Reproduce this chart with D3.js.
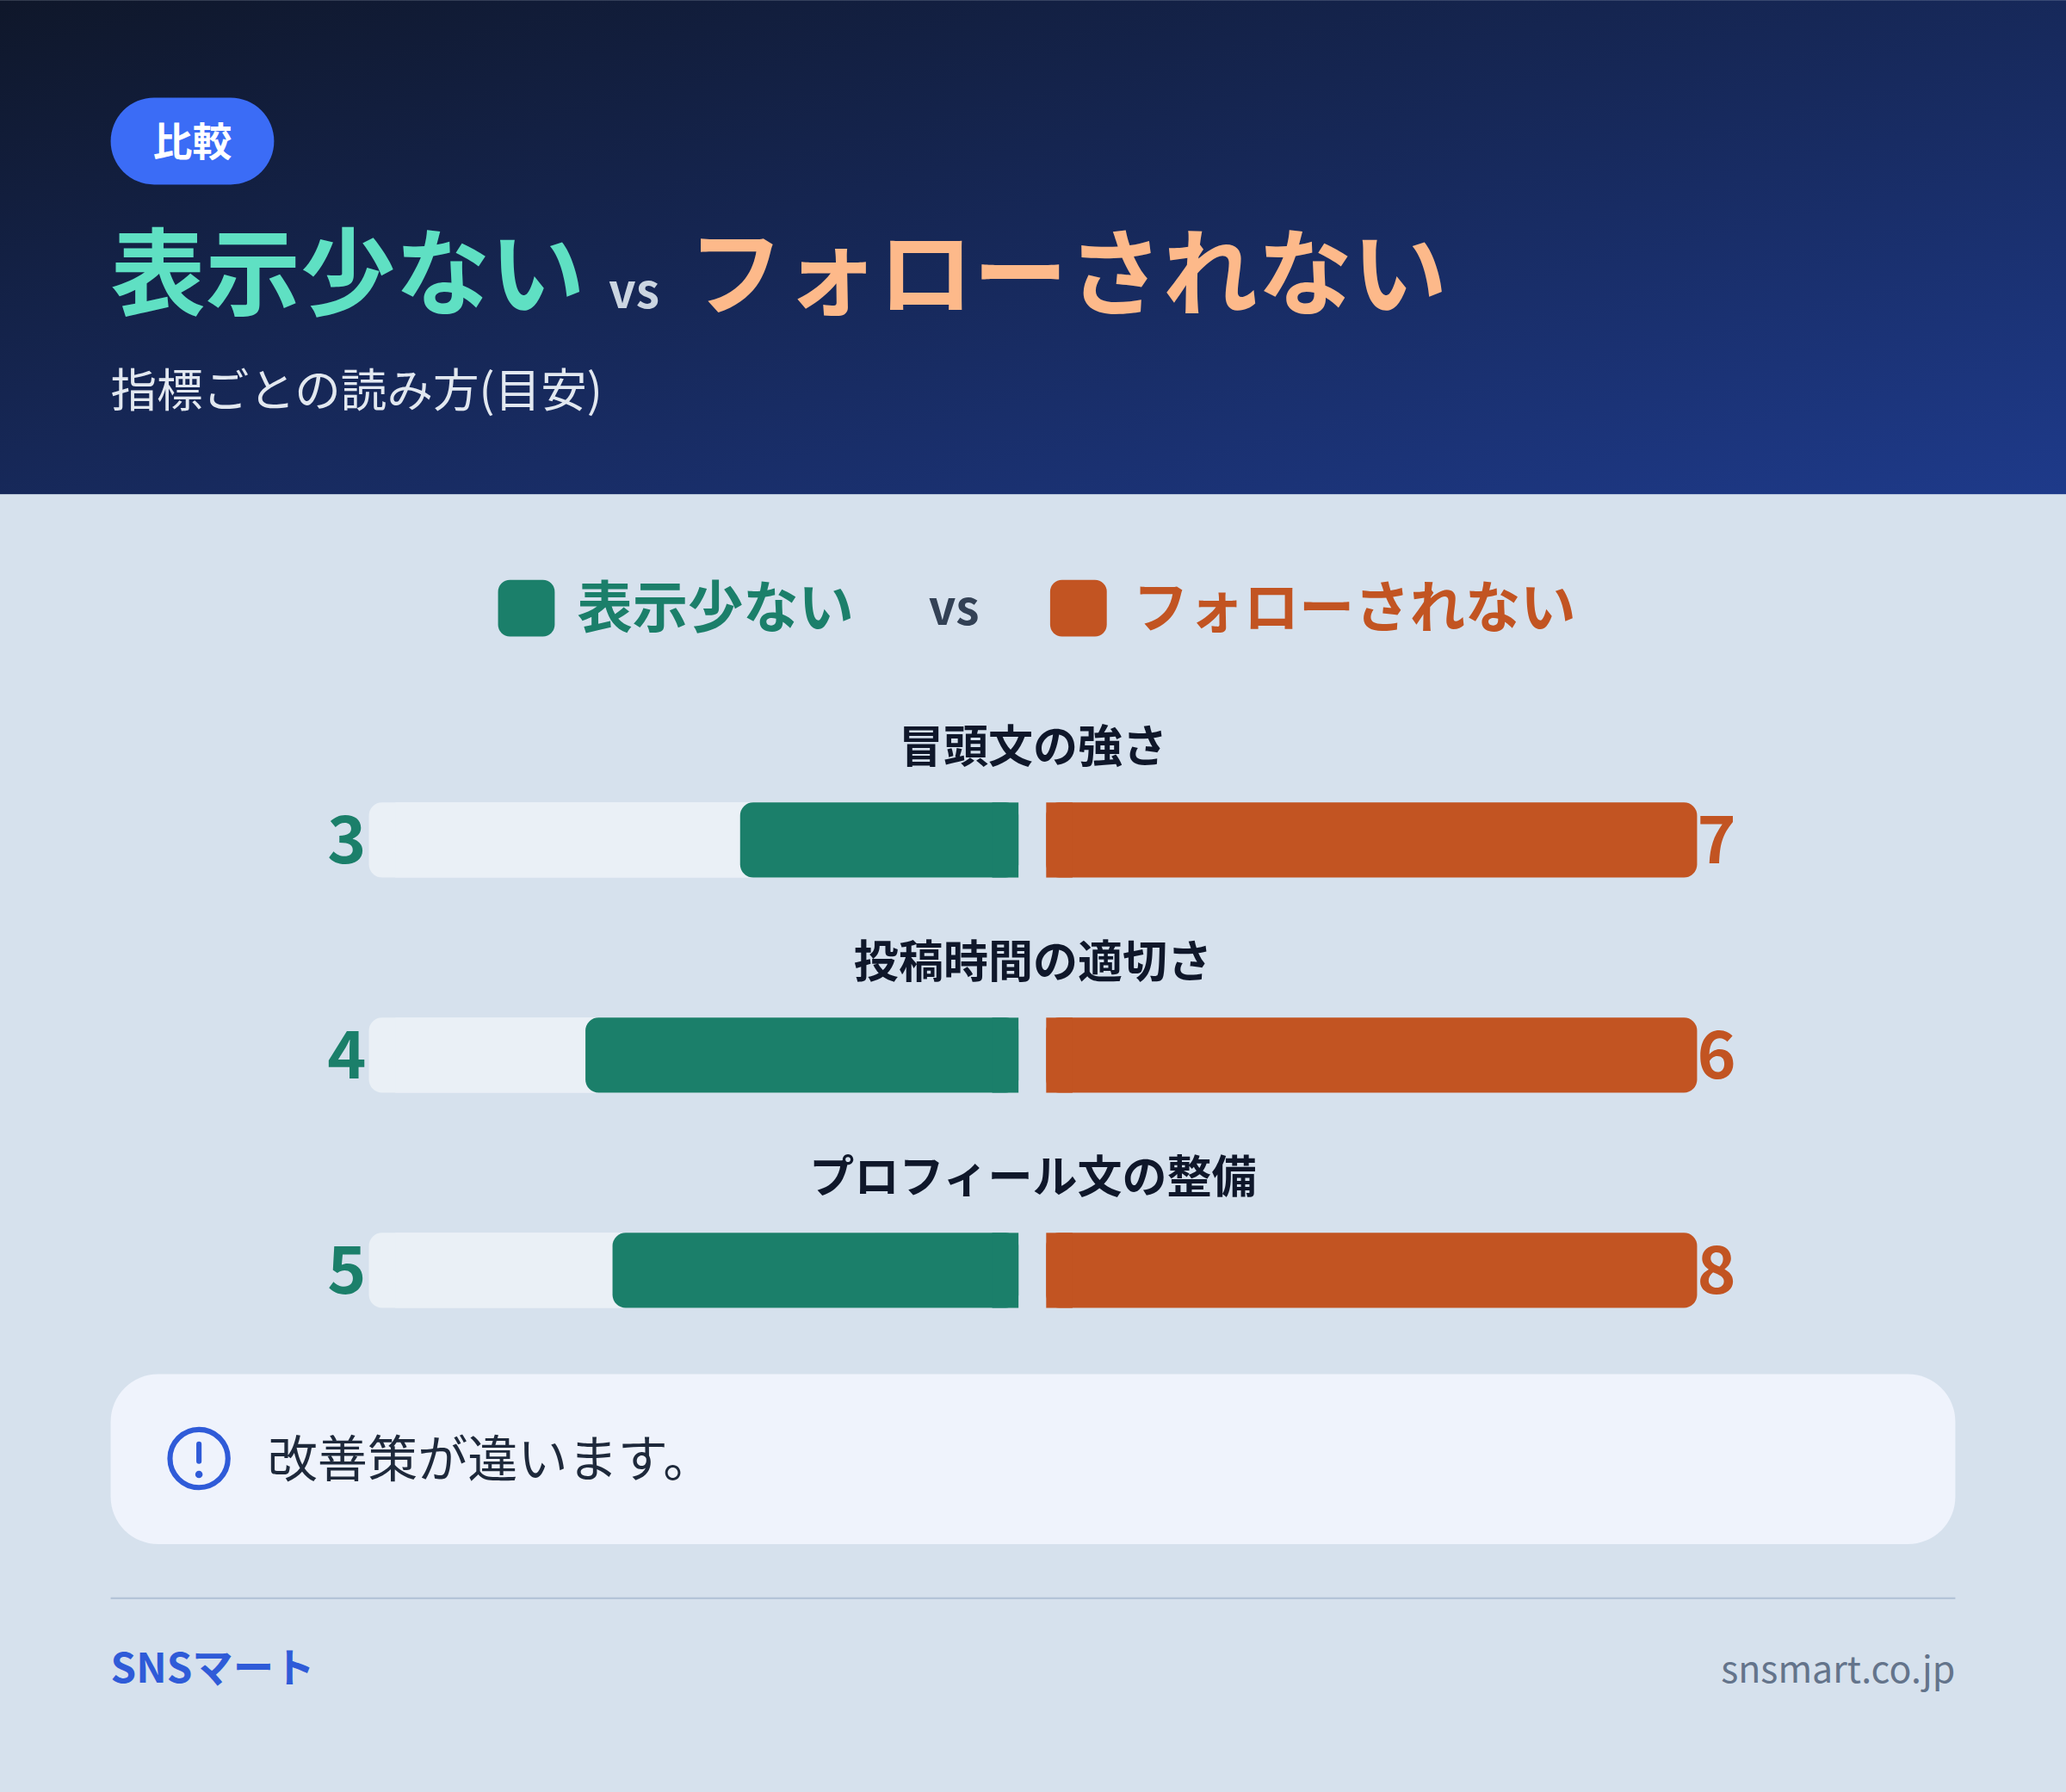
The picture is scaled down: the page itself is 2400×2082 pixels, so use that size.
<!DOCTYPE html>
<html><head><meta charset="utf-8">
<script src="https://cdn.jsdelivr.net/npm/d3@7"></script>
<style>body{margin:0;background:#d6e1ed}svg{display:block}text{font-family:"Noto Sans CJK JP","Noto Sans",sans-serif}</style>
</head><body><svg id="c"></svg>
<script>
const categories = ["冒頭文の強さ", "投稿時間の適切さ", "プロフィール文の整備"];
const seriesA = [3, 4, 5];   // 表示少ない
const seriesB = [7, 6, 8];   // フォローされない
const names = ["表示少ない", "フォローされない"];

const W = 1568, H = 1360;
const svg = d3.select("#c").attr("width", 2400).attr("height", 2082).attr("viewBox", `0 0 ${W} ${H}`);
const GREEN = "#1b7f6a", ORANGE = "#c25422";

const defs = svg.append("defs");
const gr = defs.append("linearGradient").attr("id", "hg").attr("x1", 0).attr("y1", 0).attr("x2", 1).attr("y2", 1);
gr.append("stop").attr("offset", 0).attr("stop-color", "#0f172a");
gr.append("stop").attr("offset", 1).attr("stop-color", "#1e3a8a");

svg.append("rect").attr("width", W).attr("height", H).attr("fill", "#d6e1ed");
svg.append("rect").attr("width", W).attr("height", 375).attr("fill", "url(#hg)");

// badge
svg.append("rect").attr("x", 84).attr("y", 74).attr("width", 124).attr("height", 66).attr("rx", 33).attr("fill", "#3b6cf6");
svg.append("text").attr("x", 146).attr("y", 118).attr("text-anchor", "middle").attr("fill", "#fff")
  .attr("font-size", 30).attr("font-weight", 700).text("比較");

const title = svg.append("text").attr("x", 84).attr("y", 234).attr("font-weight", 700);
title.append("tspan").attr("fill", "#5fe0c3").attr("font-size", 72).text(names[0]);
title.append("tspan").attr("fill", "#cbd5e1").attr("font-size", 36).attr("dx", 18).text("vs");
title.append("tspan").attr("fill", "#fdb98a").attr("font-size", 72).attr("dx", 22).text(names[1]);
svg.append("text").attr("x", 84).attr("y", 309).attr("fill", "#e2e8f0").attr("font-size", 35).text("指標ごとの読み方(目安)");

// legend
const lg = svg.append("g");
lg.append("rect").attr("x", 378).attr("y", 440).attr("width", 43).attr("height", 43).attr("rx", 9).attr("fill", GREEN);
lg.append("text").attr("x", 438).attr("y", 476).attr("fill", GREEN).attr("font-size", 42).attr("font-weight", 700).text(names[0]);
lg.append("text").attr("x", 724).attr("y", 474).attr("text-anchor", "middle").attr("fill", "#334155").attr("font-size", 36).attr("font-weight", 700).text("vs");
lg.append("rect").attr("x", 797).attr("y", 440).attr("width", 43).attr("height", 43).attr("rx", 9).attr("fill", ORANGE);
lg.append("text").attr("x", 860).attr("y", 476).attr("fill", ORANGE).attr("font-size", 42).attr("font-weight", 700).text(names[1]);

// bars
const y = d3.scaleBand().domain(categories).range([540, 1030]).paddingInner(0);
const xL = d3.scaleLinear().domain([0, 1]).range([773, 280]);
const xR = d3.scaleLinear().domain([0, 1]).range([794, 1288]);
const bh = 57;
categories.forEach((c, i) => {
  const top = y(c) + 69;
  const m = Math.max(seriesA[i], seriesB[i]);
  const g = svg.append("g");
  g.append("text").attr("x", 784).attr("y", top - 30).attr("text-anchor", "middle").attr("fill", "#0f172a")
    .attr("font-size", 34).attr("font-weight", 700).text(c);
  g.append("rect").attr("x", xL(1)).attr("y", top).attr("width", xL(0) - xL(1)).attr("height", bh).attr("rx", 10).attr("fill", "#eaf0f6");
  g.append("rect").attr("x", xL(1) + 20).attr("y", top).attr("width", xL(0) - xL(1) - 20).attr("height", bh).attr("fill", "#eaf0f6");
  const a = seriesA[i] / m, b = seriesB[i] / m;
  g.append("rect").attr("x", xL(a)).attr("y", top).attr("width", xL(0) - xL(a)).attr("height", bh).attr("rx", 10).attr("fill", GREEN);
  g.append("rect").attr("x", xL(0) - 20).attr("y", top).attr("width", 20).attr("height", bh).attr("fill", GREEN);
  g.append("rect").attr("x", xR(0)).attr("y", top).attr("width", xR(b) - xR(0)).attr("height", bh).attr("rx", 10).attr("fill", ORANGE);
  g.append("rect").attr("x", xR(0)).attr("y", top).attr("width", 20).attr("height", bh).attr("fill", ORANGE);
  g.append("text").attr("x", 278).attr("y", top + 46).attr("text-anchor", "end").attr("fill", GREEN)
    .attr("font-size", 50).attr("font-weight", 700).text(seriesA[i]);
  g.append("text").attr("x", xR(b)).attr("y", top + 46).attr("fill", ORANGE)
    .attr("font-size", 50).attr("font-weight", 700).text(seriesB[i]);
});

// note
svg.append("rect").attr("x", 84).attr("y", 1043).attr("width", 1400).attr("height", 129).attr("rx", 36).attr("fill", "#eff3fc");
svg.append("circle").attr("cx", 151).attr("cy", 1107).attr("r", 22).attr("fill", "none").attr("stroke", "#2f5bd8").attr("stroke-width", 4);
svg.append("rect").attr("x", 149).attr("y", 1094).attr("width", 4).attr("height", 17).attr("rx", 2).attr("fill", "#2f5bd8");
svg.append("circle").attr("cx", 151).attr("cy", 1119).attr("r", 2.8).attr("fill", "#2f5bd8");
svg.append("text").attr("x", 203).attr("y", 1121).attr("fill", "#1e293b").attr("font-size", 38).text("改善策が違います。");

// footer
svg.append("line").attr("x1", 84).attr("x2", 1484).attr("y1", 1213).attr("y2", 1213).attr("stroke", "#b4c4d8").attr("stroke-width", 1.5);
svg.append("text").attr("x", 84).attr("y", 1277).attr("fill", "#2f5bd8").attr("font-size", 31).attr("font-weight", 700).text("SNSマート");
svg.append("text").attr("x", 1484).attr("y", 1277).attr("text-anchor", "end").attr("fill", "#64748b").attr("font-size", 28).text("snsmart.co.jp");
</script></body></html>
